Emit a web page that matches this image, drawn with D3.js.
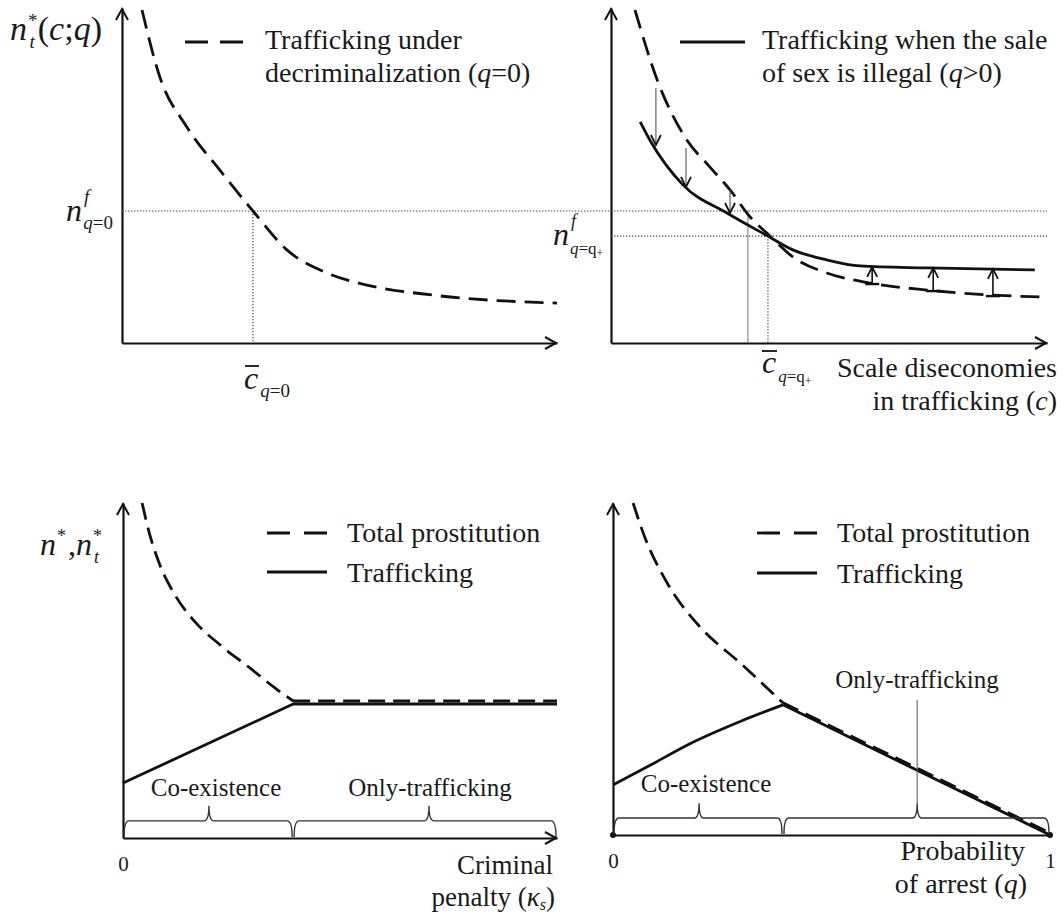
<!DOCTYPE html>
<html><head><meta charset="utf-8">
<script src="https://cdn.jsdelivr.net/npm/d3@7"></script>
<style>
body{margin:0;background:#fff}
text{font-family:"Liberation Serif","Times New Roman",serif;fill:#1a1a1a}
</style>
</head><body>
<svg id="c" width="1063" height="915"></svg>
<script>
// ---------------- data (panel units 0..100 along each axis) ----------------
const decrimTopLeft  = [[4.6,99.4],[8.7,79.4],[14.9,64.5],[22.5,51.6],[30.1,39.4],[37.9,27.8],[47.1,20.9],[56.3,17.3],[71.5,14.3],[100,11.9]];
const decrimTopRight = [[5.5,99.4],[10.6,78.5],[17.4,60.6],[22.7,52.5],[27.3,45.7],[31.9,37.6],[36.0,32.5],[41.7,25.7],[49.5,20.9],[59.4,17.9],[72.5,15.8],[87.6,14.3],[100,13.7]];
const illegalTopRight= [[6.7,66.0],[8.9,60.6],[16.5,47.2],[26.6,38.8],[36.0,31.9],[41.7,27.8],[49.5,24.8],[57.1,23.0],[72.5,22.4],[97.2,21.8]];
const downArrows = [[10.3,76.1,59.1],[17.2,58.2,46.6],[27.3,45.7,38.8]];   // x, from, to
const upArrows   = [[59.9,17.6,22.7],[73.9,15.5,22.4],[87.6,14.0,22.1]];
const nfDecrim = 39.4, cbarDecrim = 30.1;
const nfIllegal = 31.9, cbarIllegal = 36.0, cutIllegal = 31.4;

const totalBL = [[4.4,100],[6.2,90.4],[8.5,81.5],[12.0,72.5],[16.6,64.5],[22.4,57.6],[29.3,50.7],[35.0,44.8],[39.2,40.9]];
const totalBLflat = [[39.2,40.9],[100,40.9]];
const traffBL = [[0,16.4],[39.2,40.0],[100,40.0]];
const totalBR = [[4.6,100],[6.9,91.0],[12.4,75.9],[19.9,62.7],[29.1,51.8],[38.9,39.8]];
const totalBRline = [[38.9,39.8],[100,0.6]];
const traffBR = [[0,15.1],[8.5,21.0],[17.6,27.5],[29.1,34.2],[38.9,39.2]];
const traffBRline = [[38.9,39.2],[100,0]];
const bracesBL = [[0,39.2,19.8],[39.2,100,70.5]];   // start, end, tip
const bracesBR = [[0,38.9,19.7],[38.9,100,69.6]];
const regionNames = ["Co-existence","Only-trafficking"];
const onlyTraffMarkBR = 69.6;
const ticksBL = [0], ticksBLlabels = ["0"];
const ticksBR = [0,100], ticksBRlabels = ["0","1"];

// ---------------- layout ----------------
const svg = d3.select("#c");
function panel(x0,x1,y0,y1){return {x:d3.scaleLinear().domain([0,100]).range([x0,x1]),y:d3.scaleLinear().domain([0,100]).range([y0,y1])};}
const TL=panel(122,557,343,8), TR=panel(611,1047,343,8), BL=panel(123,557,838,503), BR=panel(613,1050,835,503);
const INK="#111", LW=2.8;

function line(g,x1,y1,x2,y2,w,col,dash){const l=g.append("line").attr("x1",x1).attr("y1",y1).attr("x2",x2).attr("y2",y2).attr("stroke",col||INK).attr("stroke-width",w||1);if(dash)l.attr("stroke-dasharray",dash);return l;}

function axes(P,opt){
  const g=svg.append("g");
  const xa=d3.axisBottom(P.x).tickValues(opt.ticks||[]).tickSize(0).tickPadding(14).tickSizeOuter(0)
     .tickFormat((d,i)=>opt.labels?opt.labels[i]:"");
  const gx=g.append("g").attr("transform",`translate(0,${P.y(0)})`).call(xa);
  gx.select(".domain").attr("stroke",INK).attr("stroke-width",2.2);
  gx.selectAll("text").attr("font-size",21).attr("font-family","Liberation Serif").attr("fill","#1a1a1a").attr("dy","0.9em");
  const gy=g.append("g").attr("transform",`translate(${P.x(0)},0)`).call(d3.axisLeft(P.y).tickValues([]).tickSizeOuter(0));
  gy.select(".domain").attr("stroke",INK).attr("stroke-width",2.2);
  const x0=P.x(0), yT=P.y(100)+1;
  g.append("path").attr("d",`M${x0-6},${yT+11}L${x0},${yT}L${x0+6},${yT+11}`).attr("fill","none").attr("stroke",INK).attr("stroke-width",2);
  if(opt.arrowX!==false){
    const xe=P.x(100)-1, y0=P.y(0);
    g.append("path").attr("d",`M${xe-11},${y0-6}L${xe},${y0}L${xe-11},${y0+6}`).attr("fill","none").attr("stroke",INK).attr("stroke-width",2);
  }
}
function curve(P,pts,dash,smooth){
  const gen=d3.line().x(d=>P.x(d[0])).y(d=>P.y(d[1])).curve(smooth?d3.curveMonotoneX:d3.curveLinear);
  const p=svg.append("path").attr("d",gen(pts)).attr("fill","none").attr("stroke",INK).attr("stroke-width",LW).attr("stroke-linejoin","round");
  if(dash)p.attr("stroke-dasharray",dash);
  return p;
}
function txt(x,y,s,size,opt){opt=opt||{};const t=svg.append("text").attr("x",x).attr("y",y).attr("font-size",size);
  if(opt.anchor)t.attr("text-anchor",opt.anchor);
  if(Array.isArray(s)){s.forEach(p=>{const ts=t.append("tspan").text(p.t);if(p.i)ts.attr("font-style","italic");if(p.s)ts.attr("font-size",p.s);if(p.dy)ts.attr("dy",p.dy);if(p.dx)ts.attr("dx",p.dx);});}
  else t.text(s);
  if(opt.italic)t.attr("font-style","italic");
  return t;}
function arrowHead(x,y,dir){ // dir 1 = pointing down, -1 = up
  svg.append("path").attr("d",`M${x-5},${y-10*dir}L${x},${y}L${x+5},${y-10*dir}`).attr("fill","none").attr("stroke",INK).attr("stroke-width",1.8);
}
function brace(P,a,b,tip){
  const yA=P.y(0)-1,yL=P.y(5.1),yT=P.y(9.6),xa=P.x(a)+1,xb=P.x(b)-1,xt=P.x(tip),r=5;
  svg.append("path").attr("d",`M${xa},${yA}Q${xa},${yL} ${xa+r},${yL}L${xt-r},${yL}Q${xt},${yL} ${xt},${yT}Q${xt},${yL} ${xt+r},${yL}L${xb-r},${yL}Q${xb},${yL} ${xb},${yA}`)
   .attr("fill","none").attr("stroke","#333").attr("stroke-width",1.4);
}
const DOT="1.3,1.7", DASH_T="19,9", DASH_B="17,8";

// ================= TOP LEFT =================
axes(TL,{});
line(svg,TL.x(0),TL.y(nfDecrim),TR.x(100),TL.y(nfDecrim),1.2,"#444",DOT);
line(svg,TL.x(cbarDecrim),TL.y(nfDecrim),TL.x(cbarDecrim),TL.y(0),1.2,"#444",DOT);
curve(TL,decrimTopLeft,DASH_T,true);
line(svg,185,42,243,42,LW,INK,"23,12");
txt(265,49,"Trafficking under",28);
txt(265,82,[{t:"decriminalization ("},{t:"q",i:1},{t:"=0)"}],28);
// y label n_t^*(c;q)
txt(10,40,[{t:"n",i:1},{t:"*",s:19,dy:-13,dx:1},{t:"t",i:1,s:19,dx:-8,dy:21},{t:"(",dx:3,dy:-8},{t:"c",i:1},{t:";"},{t:"q",i:1},{t:")"}],34);
// n^f_{q=0}
txt(66,221,[{t:"n",i:1},{t:"f",i:1,s:19,dy:-18,dx:2},{t:"q",i:1,s:19,dx:-6,dy:26},{t:"=0",s:19}],32);
// c-bar_{q=0}
txt(244,389,[{t:"c",i:1},{t:"q",i:1,s:19,dy:8,dx:2},{t:"=0",s:19}],32);
line(svg,245,366,259,366,1.8);

// ================= TOP RIGHT =================
axes(TR,{});
line(svg,TR.x(0),TR.y(nfIllegal),TR.x(100),TR.y(nfIllegal),1.2,"#444",DOT);
line(svg,TR.x(cbarIllegal),TR.y(nfIllegal),TR.x(cbarIllegal),TR.y(0),1.2,"#444",DOT);
line(svg,TR.x(cutIllegal),TR.y(nfDecrim)-1,TR.x(cutIllegal),TR.y(0),1,"#777");
curve(TR,decrimTopRight,DASH_T,true);
curve(TR,illegalTopRight,null,true);
downArrows.forEach(a=>{line(svg,TR.x(a[0]),TR.y(a[1]),TR.x(a[0]),TR.y(a[2]),1.1,"#555");arrowHead(TR.x(a[0]),TR.y(a[2]),1);});
upArrows.forEach(a=>{line(svg,TR.x(a[0]),TR.y(a[1]),TR.x(a[0]),TR.y(a[2]),1.6,INK);arrowHead(TR.x(a[0]),TR.y(a[2]),-1);
  line(svg,TR.x(a[0])-7,TR.y(a[1]),TR.x(a[0])+7,TR.y(a[1]),2.4);});
line(svg,680,42,745,42,LW);
txt(762,49,"Trafficking when the sale",28);
txt(762,82,[{t:"of sex is illegal ("},{t:"q",i:1},{t:">0)"}],28);
txt(553,245,[{t:"n",i:1},{t:"f",i:1,s:18,dy:-18,dx:2},{t:"q",i:1,s:17,dx:-6,dy:27},{t:"=q",s:17},{t:"+",s:12,dy:3}],32);
txt(762,373,[{t:"c",i:1},{t:"q",i:1,s:17,dy:9,dx:2},{t:"=q",s:17},{t:"+",s:12,dy:3}],32);
line(svg,762,351,777,351,1.8);
txt(1057,377,"Scale diseconomies",28,{anchor:"end"});
txt(1057,410,[{t:"in trafficking ("},{t:"c",i:1},{t:")"}],28,{anchor:"end"});

// ================= BOTTOM LEFT =================
axes(BL,{ticks:ticksBL,labels:ticksBLlabels});
curve(BL,totalBL,DASH_B,true);
curve(BL,totalBLflat,DASH_B,false);
curve(BL,traffBL,null,false);
bracesBL.forEach(b=>brace(BL,b[0],b[1],b[2]));
txt(216,796,regionNames[0],25,{anchor:"middle"});
txt(430,796,regionNames[1],25,{anchor:"middle"});
line(svg,267,533,327,533,LW,INK,"23,14");
line(svg,267,572,327,572,LW);
txt(347,542,"Total prostitution",28);
txt(347,582,"Trafficking",28);
txt(40,555,[{t:"n",i:1},{t:"*",s:18,dy:-13,dx:1},{t:",",dy:13,dx:2},{t:"n",i:1},{t:"*",s:18,dy:-13,dx:1},{t:"t",i:1,s:18,dx:-8,dy:21}],32);
txt(553,874,"Criminal",27,{anchor:"end"});
txt(555,906,[{t:"penalty ("},{t:"κ",i:1},{t:"s",i:1,s:16,dy:4},{t:")",dy:-4}],27,{anchor:"end"});

// ================= BOTTOM RIGHT =================
axes(BR,{ticks:ticksBR,labels:ticksBRlabels,arrowX:false});
svg.append("circle").attr("cx",BR.x(0)).attr("cy",BR.y(0)).attr("r",3).attr("fill",INK);
svg.append("circle").attr("cx",BR.x(100)).attr("cy",BR.y(0)).attr("r",3).attr("fill",INK);
curve(BR,totalBR,DASH_B,true);
curve(BR,totalBRline,DASH_B,false);
curve(BR,traffBR,null,true);
curve(BR,traffBRline,null,false);
bracesBR.forEach(b=>brace(BR,b[0],b[1],b[2]));
line(svg,BR.x(onlyTraffMarkBR),BR.y(9.6),BR.x(onlyTraffMarkBR),BR.y(40.7),1,"#555");
txt(706,792,regionNames[0],25,{anchor:"middle"});
txt(917,688,regionNames[1],25,{anchor:"middle"});
line(svg,757,533,817,533,LW,INK,"23,14");
line(svg,757,573,817,573,LW);
txt(837,542,"Total prostitution",28);
txt(837,583,"Trafficking",28);
txt(1025,860,"Probability",28,{anchor:"end"});
txt(1027,893,[{t:"of arrest ("},{t:"q",i:1},{t:")"}],28,{anchor:"end"});
</script>
</body></html>
